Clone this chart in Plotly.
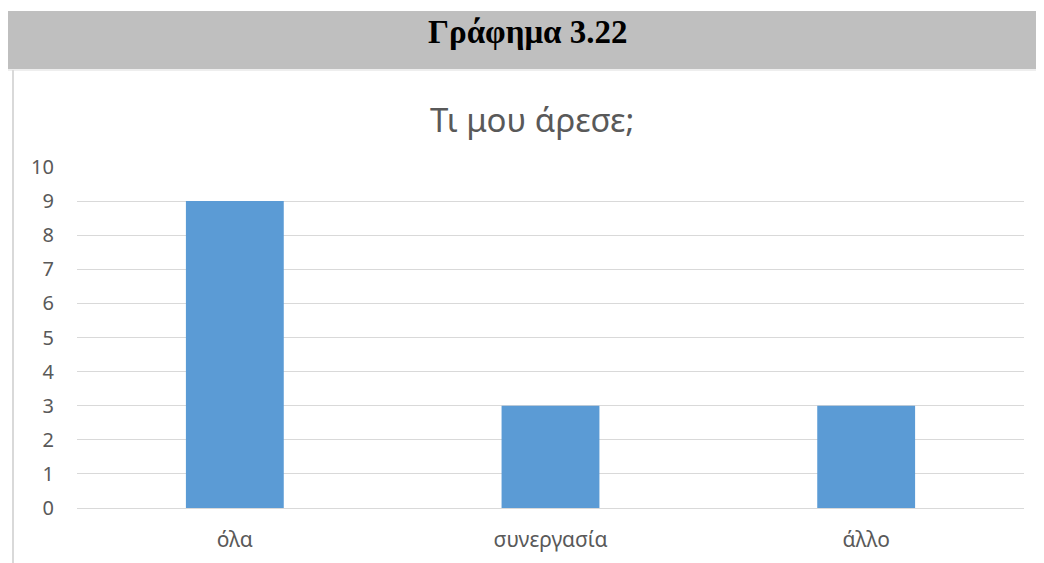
import plotly.graph_objects as go

categories = ["όλα", "συνεργασία", "άλλο"]
values = [9, 3, 3]
y_ticks = list(range(0, 11))

# page body has an 8px margin, so the figure starts at (8, 8) in the window
OFF = 8
W, H = 1044 - OFF, 563 - OFF
L, R, T, B = 77 - OFF, 20, 167 - OFF, 55
pw, ph = W - L - R, H - T - B


def px(x):
    return (x - OFF - L) / pw


def py(y):
    return (H - B - (y - OFF)) / ph


fig = go.Figure(go.Bar(x=categories, y=values, marker=dict(color="#5b9bd5", line=dict(width=0)), width=0.31))

fig.update_layout(
    width=W, height=H,
    margin=dict(l=L, r=R, t=T, b=B, autoexpand=False),
    paper_bgcolor="white", plot_bgcolor="white",
    font=dict(family="Noto Sans", color="#595959", size=21),
    showlegend=False,
    xaxis=dict(showgrid=False, showline=False, ticks="", tickfont=dict(size=21), ticklabelstandoff=17,
               automargin=False),
    yaxis=dict(range=[0, 10], tickvals=y_ticks, showgrid=True, gridcolor="#d9d9d9", gridwidth=1,
               zeroline=True, zerolinecolor="#d9d9d9", zerolinewidth=1, showline=False,
               tickfont=dict(size=20), ticklabelstandoff=22, automargin=False),
    shapes=[
        dict(type="rect", xref="paper", yref="paper", x0=px(6), x1=px(1050), y0=py(69), y1=py(11),
             fillcolor="#bfbfbf", line=dict(width=0), layer="below"),
        dict(type="line", xref="paper", yref="paper", x0=px(6), x1=px(1050), y0=py(70), y1=py(70),
             line=dict(color="#eeeeee", width=2)),
        dict(type="line", xref="paper", yref="paper", x0=px(13), x1=px(13), y0=py(70), y1=py(570),
             line=dict(color="#d9d9d9", width=2)),
    ],
    annotations=[
        dict(text="<b>Γράφημα 3.22</b>", xref="paper", yref="paper", x=px(528), y=py(32),
             showarrow=False, font=dict(family="Liberation Serif", size=33, color="black"),
             xanchor="center", yanchor="middle"),
        dict(text="Τι μου άρεσε;", xref="paper", yref="paper", x=px(532), y=py(120),
             showarrow=False, font=dict(family="Noto Sans", size=33, color="#595959"),
             xanchor="center", yanchor="middle"),
    ],
)

fig.write_html("out.html")
